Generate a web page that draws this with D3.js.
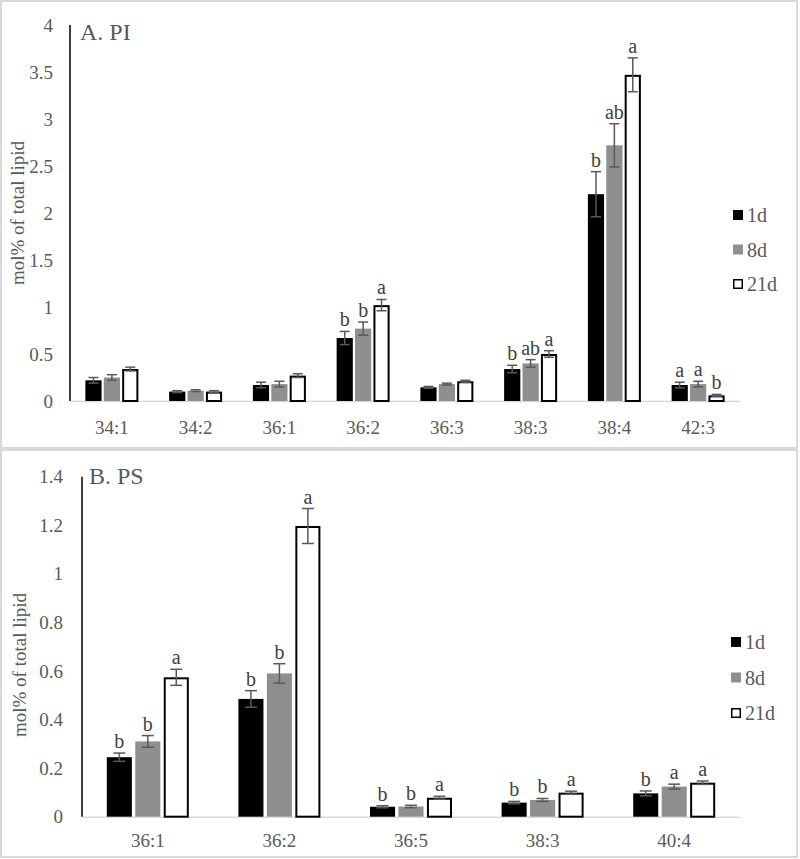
<!DOCTYPE html>
<html><head><meta charset="utf-8">
<script src="https://cdn.jsdelivr.net/npm/d3@7"></script>
<style>body{margin:0;background:#fff}svg{display:block}svg text{font-family:"Liberation Serif","Times New Roman",serif}</style>
</head><body>
<svg id="chart" width="800" height="859"></svg>
<script>
const series = ["1d", "8d", "21d"];
const seriesFill = ["#000000", "#8f8f8f", "#ffffff"];

// Panel A: PI
const catsA = ["34:1", "34:2", "36:1", "36:2", "36:3", "38:3", "38:4", "42:3"];
const valsA_1d  = [0.22, 0.10, 0.17, 0.67, 0.145, 0.34, 2.20, 0.17];
const valsA_8d  = [0.25, 0.11, 0.18, 0.77, 0.18, 0.40, 2.72, 0.18];
const valsA_21d = [0.34, 0.10, 0.27, 1.02, 0.21, 0.50, 3.47, 0.06];
const errA_1d   = [0.03, 0.01, 0.03, 0.07, 0.01, 0.04, 0.24, 0.03];
const errA_8d   = [0.03, 0.01, 0.03, 0.07, 0.01, 0.04, 0.23, 0.03];
const errA_21d  = [0.02, 0.01, 0.02, 0.06, 0.01, 0.035, 0.18, 0.01];
const letA_1d   = ["", "", "", "b", "", "b", "b", "a"];
const letA_8d   = ["", "", "", "b", "", "ab", "ab", "a"];
const letA_21d  = ["", "", "", "a", "", "a", "a", "b"];
const ticksA = [0, 0.5, 1, 1.5, 2, 2.5, 3, 3.5, 4];

// Panel B: PS
const catsB = ["36:1", "36:2", "36:5", "38:3", "40:4"];
const valsB_1d  = [0.245, 0.485, 0.041, 0.058, 0.096];
const valsB_8d  = [0.31, 0.59, 0.042, 0.069, 0.124];
const valsB_21d = [0.574, 1.197, 0.078, 0.099, 0.14];
const errB_1d   = [0.017, 0.034, 0.004, 0.005, 0.01];
const errB_8d   = [0.024, 0.04, 0.005, 0.006, 0.01];
const errB_21d  = [0.033, 0.072, 0.006, 0.006, 0.007];
const letB_1d   = ["b", "b", "b", "b", "b"];
const letB_8d   = ["b", "b", "b", "b", "a"];
const letB_21d  = ["a", "a", "a", "a", "a"];
const ticksB = [0, 0.2, 0.4, 0.6, 0.8, 1, 1.2, 1.4];

const svg = d3.select("#chart");
const font = '"Liberation Serif","Times New Roman",serif';
const txt = "#595959";

function panel(cfg) {
  const g = svg.append("g");
  g.append("rect").attr("x", cfg.box[0]).attr("y", cfg.box[1])
    .attr("width", cfg.box[2]).attr("height", cfg.box[3])
    .attr("fill", "#fff").attr("stroke", "#d9d9d9").attr("stroke-width", 2);

  const x = d3.scaleBand().domain(cfg.cats).range([cfg.x0, cfg.x1]);
  const y = d3.scaleLinear().domain([0, cfg.ymax]).range([cfg.y0, cfg.y1]);
  const xs = d3.scaleBand().domain(series).range([0, cfg.groupW]).paddingInner(cfg.inner);

  const ya = g.append("g").attr("transform", `translate(${cfg.x0},0)`)
    .call(d3.axisLeft(y).tickValues(cfg.ticks).tickSize(0).tickPadding(cfg.tickPad).tickFormat(d => String(d)));
  ya.attr("font-family", null);
  ya.select(".domain").remove();
  ya.selectAll("text").style("font-family", font).attr("font-size", 19).attr("fill", txt);

  const xa = g.append("g").attr("transform", `translate(0,${cfg.y0})`)
    .call(d3.axisBottom(x).tickSize(0).tickPadding(cfg.xPad));
  xa.attr("font-family", null);
  xa.select(".domain").attr("stroke", "#d9d9d9").attr("stroke-width", 1.5);
  xa.selectAll("text").style("font-family", font).attr("font-size", 19).attr("fill", txt);

  const vals = [cfg.v1, cfg.v8, cfg.v21];
  const errs = [cfg.e1, cfg.e8, cfg.e21];
  const lets = [cfg.l1, cfg.l8, cfg.l21];
  series.forEach((s, si) => {
    const data = cfg.cats.map((c, i) => ({c, v: vals[si][i], e: errs[si][i], l: lets[si][i]}));
    const off = (x.bandwidth() - cfg.groupW) / 2;
    const sw = si === 2 ? 2 : 0;
    g.append("g").selectAll("rect").data(data).join("rect")
      .attr("x", d => x(d.c) + off + xs(s) + sw / 2)
      .attr("width", xs.bandwidth() - sw)
      .attr("y", d => y(d.v) + sw / 2)
      .attr("height", d => Math.max(0, y(0) - y(d.v) - sw / 2))
      .attr("fill", seriesFill[si])
      .attr("stroke", si === 2 ? "#000" : "none")
      .attr("stroke-width", sw);
    const eg = g.append("g").attr("stroke", "#595959").attr("stroke-width", 1.5);
    data.forEach(d => {
      const cx = x(d.c) + off + xs(s) + xs.bandwidth() / 2;
      const cap = cfg.cap;
      eg.append("line").attr("x1", cx).attr("x2", cx).attr("y1", y(d.v - d.e)).attr("y2", y(d.v + d.e));
      eg.append("line").attr("x1", cx - cap).attr("x2", cx + cap).attr("y1", y(d.v - d.e)).attr("y2", y(d.v - d.e));
      eg.append("line").attr("x1", cx - cap).attr("x2", cx + cap).attr("y1", y(d.v + d.e)).attr("y2", y(d.v + d.e));
      if (d.l) {
        g.append("text").attr("x", cx).attr("y", y(d.v + d.e) - 5)
          .attr("text-anchor", "middle").style("font-family", font).attr("font-size", 20)
          .attr("fill", "#404040").text(d.l);
      }
    });
  });

  g.append("line").attr("x1", cfg.x0).attr("x2", cfg.x0).attr("y1", cfg.y1).attr("y2", cfg.y0)
    .attr("stroke", "#000").attr("stroke-width", 1.5);

  g.append("text").attr("x", cfg.titleX).attr("y", cfg.titleY).style("font-family", font)
    .attr("font-size", 24).attr("fill", txt).text(cfg.title);

  g.append("text").attr("transform", `translate(${cfg.ylabX},${cfg.ylabY}) rotate(-90)`)
    .attr("text-anchor", "middle").style("font-family", font).attr("font-size", 19)
    .attr("fill", txt).text("mol% of total lipid");

  series.forEach((s, si) => {
    const ly = cfg.legY + si * cfg.legStep;
    g.append("rect").attr("x", cfg.legX + (si === 2 ? 0.75 : 0)).attr("y", ly - 5 + (si === 2 ? 0.75 : 0))
      .attr("width", si === 2 ? 8.5 : 10).attr("height", si === 2 ? 8.5 : 10)
      .attr("fill", seriesFill[si]).attr("stroke", si === 2 ? "#000" : "none").attr("stroke-width", 1.5);
    g.append("text").attr("x", cfg.legX + 14).attr("y", ly + 7).style("font-family", font)
      .attr("font-size", 20).attr("fill", txt).text(s);
  });
}

panel({
  box: [1, 1, 796, 447], cats: catsA, x0: 70, x1: 740, y0: 401, y1: 25, ymax: 4,
  ticks: ticksA, groupW: 53, inner: 0.12, cap: 5, tickPad: 17, xPad: 20,
  v1: valsA_1d, v8: valsA_8d, v21: valsA_21d, e1: errA_1d, e8: errA_8d, e21: errA_21d,
  l1: letA_1d, l8: letA_8d, l21: letA_21d,
  title: "A. PI", titleX: 80, titleY: 40, ylabX: 24, ylabY: 213,
  legX: 733, legY: 215, legStep: 34.5
});
panel({
  box: [1, 450, 796, 407], cats: catsB, x0: 82, x1: 740, y0: 816.7, y1: 476.7, ymax: 1.4,
  ticks: ticksB, groupW: 82, inner: 0.12, cap: 6, tickPad: 19, xPad: 17,
  v1: valsB_1d, v8: valsB_8d, v21: valsB_21d, e1: errB_1d, e8: errB_8d, e21: errB_21d,
  l1: letB_1d, l8: letB_8d, l21: letB_21d,
  title: "B. PS", titleX: 89, titleY: 484, ylabX: 26, ylabY: 665,
  legX: 731, legY: 642, legStep: 35.5
});
</script>
</body></html>
